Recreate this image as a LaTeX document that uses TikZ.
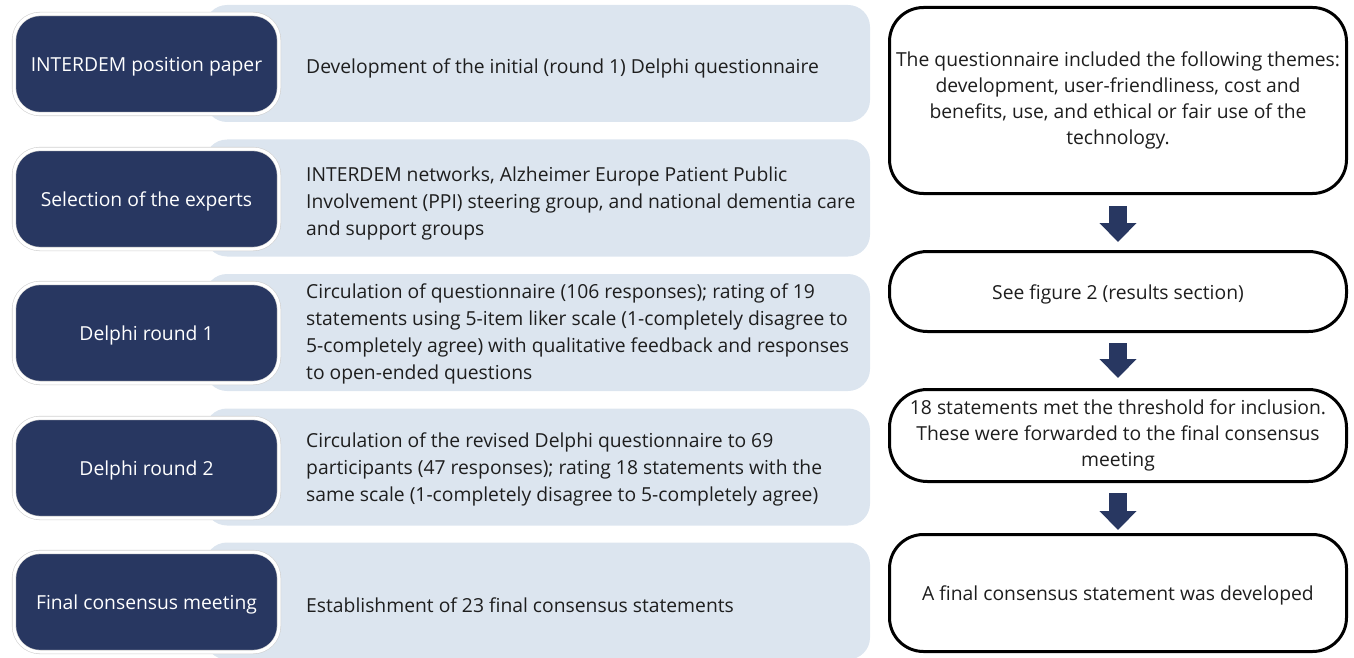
\documentclass[tikz,border=0pt]{standalone}
\usepackage{fontspec}
\setmainfont{Open Sans}
\usetikzlibrary{arrows.meta}
\definecolor{navy}{RGB}{40,55,97}
\definecolor{paleblue}{RGB}{220,229,239}
\definecolor{ink}{RGB}{30,30,30}
\newcommand{\lowerstrut}{\rule{0pt}{20pt}}
\tikzset{
  stage/.style={rounded corners=26pt, fill=navy, draw=black!18, double=white,
    double distance=3pt, line width=0.6pt, minimum width=265pt, minimum height=100pt,
    text=white, font=\fontsize{19.3pt}{27pt}\selectfont, inner sep=0pt,
    execute at begin node=\lowerstrut},
  band/.style={rounded corners=22pt, fill=paleblue, minimum width=665pt,
    minimum height=117pt, inner sep=0pt},
  bandtext/.style={anchor=west, align=left, text=ink, yshift=-3pt,
    font=\fontsize{19.3pt}{27pt}\selectfont, inner sep=0pt},
  outcome/.style={rounded corners=34pt, draw=black, line width=3pt, fill=white,
    minimum width=457pt, align=center, text=ink,
    font=\fontsize{19.3pt}{26pt}\selectfont, inner sep=0pt,
    execute at begin node=\lowerstrut},
  flowarrow/.style={draw=navy, line width=18pt,
    -{Triangle[width=36pt,length=19pt]}},
}
\begin{document}
\begin{tikzpicture}[x=1pt,y=-1pt]
\useasboundingbox (0,0) rectangle (1354,658);

% light bands carrying the descriptions
\node[band] (l1) at (537.5,63.5) {};
\node[band] (l2) at (537.5,198) {};
\node[band] (l3) at (537.5,332.5) {};
\node[band] (l4) at (537.5,467) {};
\node[band] (l5) at (537.5,601) {};

% dark stage labels
\node[stage] (d1) at (146.5,64) {INTERDEM position paper};
\node[stage] (d2) at (146.5,199) {Selection of the experts};
\node[stage] (d3) at (146.5,333) {Delphi round 1};
\node[stage] (d4) at (146.5,468) {Delphi round 2};
\node[stage] (d5) at (146.5,602) {Final consensus meeting};

% descriptions
\node[bandtext] (t1) at (306,65) {Development of the initial (round 1) Delphi questionnaire};
\node[bandtext] (t2) at (306,200) {INTERDEM networks, Alzheimer Europe Patient Public\\Involvement (PPI) steering group, and national dementia care\\and support groups};
\node[bandtext] (t3) at (306,331) {Circulation of questionnaire (106 responses); rating of 19\\statements using 5-item liker scale (1-completely disagree to\\5-completely agree) with qualitative feedback and responses\\to open-ended questions};
\node[bandtext] (t4) at (306,466) {Circulation of the revised Delphi questionnaire to 69\\participants (47 responses); rating 18 statements with the\\same scale (1-completely disagree to 5-completely agree)};
\node[bandtext] (t5) at (306,602) {Establishment of 23 final consensus statements};

% outcome column
\node[outcome, minimum height=186pt] (r1) at (1118,100.5) {The questionnaire included the following themes:\\development, user-friendliness, cost and\\benefits, use, and ethical or fair use of the\\technology.};
\node[outcome, minimum height=80pt, rounded corners=38pt] (r2) at (1118,291.5) {See figure 2 (results section)};
\node[outcome, minimum height=92pt, rounded corners=38pt] (r3) at (1118,435.5) {18 statements met the threshold for inclusion.\\These were forwarded to the final consensus\\meeting};
\node[outcome, minimum height=117pt] (r4) at (1118,593) {A final consensus statement was developed};

\draw[flowarrow] ([yshift=-11pt]r1.south) -- ([yshift=8pt]r2.north);
\draw[flowarrow] ([yshift=-10pt]r2.south) -- ([yshift=10pt]r3.north);
\draw[flowarrow] ([yshift=-10pt]r3.south) -- ([yshift=3pt]r4.north);
\end{tikzpicture}
\end{document}
